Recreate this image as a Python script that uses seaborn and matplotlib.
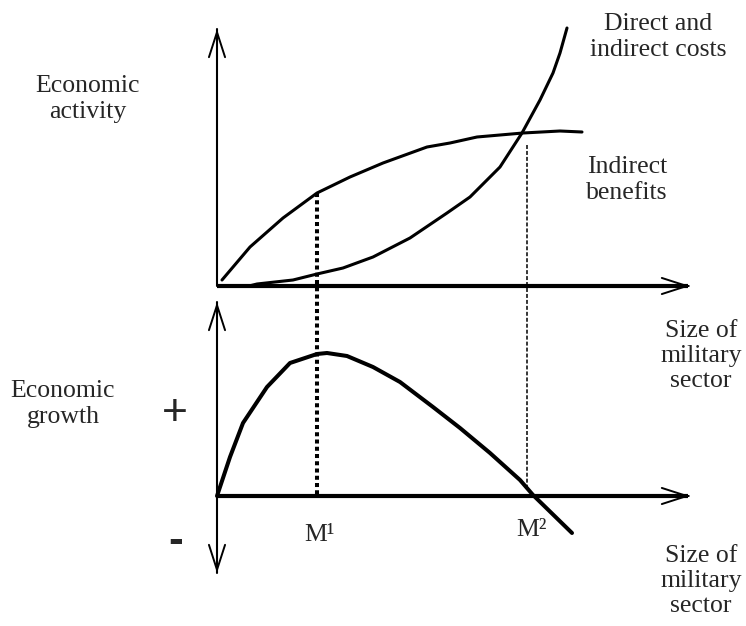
import matplotlib.pyplot as plt
import seaborn as sns
import numpy as np

# ---- data (x = size of military sector, 0 at the y axis) ----
benefit_size = [5, 33, 66, 100, 133, 166, 210, 233, 260, 306, 343, 365]
benefit_activity = [6, 39, 68, 93, 109, 123, 139, 143, 149, 153, 155, 154]

cost_size = [32, 40, 76, 100, 126, 156, 193, 230, 253, 283, 305, 323, 336, 343, 350]
cost_activity = [0, 2, 6, 12, 18, 29, 48, 73, 89, 119, 153, 186, 213, 233, 258]

growth_size = [0, 13, 26, 50, 73, 100, 110, 130, 156, 183, 216, 243, 273, 303, 316, 355]
growth_value = [0, 39, 73, 109, 133, 142, 143, 140, 129, 114, 89, 68, 43, 16, 1, -37]

m1 = 100   # size at the peak of growth
m2 = 310   # size where costs overtake benefits
m1_top = 93
m2_top = 141
m2_bottom = 9

sns.set_theme(style="white")
plt.rcParams['font.family'] = ['Liberation Serif', 'DejaVu Serif']

fig = plt.figure(figsize=(7.46, 6.26), dpi=100)
W, H = 746, 626
ox, top_axis, bot_axis = 217, 286, 496

# upper panel: 1 unit = 1 px, activity 0 on the horizontal axis
ax_top = fig.add_axes([0, (H - top_axis) / H, 1, top_axis / H])
ax_top.set_xlim(-ox, W - ox)
ax_top.set_ylim(0, top_axis)
# lower panel: growth 0 on its horizontal axis
ax_bot = fig.add_axes([0, 0, 1, (H - top_axis) / H])
ax_bot.set_xlim(-ox, W - ox)
ax_bot.set_ylim(-(H - bot_axis), bot_axis - top_axis)
for ax in (ax_top, ax_bot):
    ax.axis('off')
    ax.patch.set_alpha(0)

x_end = 690 - ox
head = dict(arrowstyle='->,head_length=1.8,head_width=0.58', lw=1.4,
            color='black', shrinkA=0, shrinkB=0, mutation_scale=10)

# axes of the upper panel
ax_top.plot([0, 0], [0, top_axis - 29], color='black', lw=1.5, clip_on=False)
ax_top.annotate('', xy=(0, top_axis - 29), xytext=(0, top_axis - 31),
                arrowprops=head, annotation_clip=False)
ax_top.plot([0, x_end - 2], [0, 0], color='black', lw=3, clip_on=False,
            solid_capstyle='butt')
ax_top.annotate('', xy=(x_end, 0), xytext=(x_end - 2, 0),
                arrowprops=head, annotation_clip=False)

# axes of the lower panel
ax_bot.plot([0, 0], [bot_axis - 302, bot_axis - 573], color='black', lw=1.5,
            clip_on=False)
ax_bot.annotate('', xy=(0, bot_axis - 302), xytext=(0, bot_axis - 304),
                arrowprops=head, annotation_clip=False)
ax_bot.annotate('', xy=(0, bot_axis - 573), xytext=(0, bot_axis - 571),
                arrowprops=head, annotation_clip=False)
ax_bot.plot([0, x_end - 2], [0, 0], color='black', lw=3, clip_on=False,
            solid_capstyle='butt')
ax_bot.annotate('', xy=(x_end, 0), xytext=(x_end - 2, 0),
                arrowprops=head, annotation_clip=False)

# curves
line_kw = dict(color='black', sort=False, solid_joinstyle='round',
               solid_capstyle='round')
sns.lineplot(x=benefit_size, y=benefit_activity, ax=ax_top, lw=2.2, **line_kw)
sns.lineplot(x=cost_size, y=cost_activity, ax=ax_top, lw=2.2, **line_kw)
sns.lineplot(x=growth_size, y=growth_value, ax=ax_bot, lw=2.9, **line_kw)

# guide lines at M1 and M2 (drawn across both panels)
ax_top.plot([m1, m1], [m1_top, -(bot_axis - top_axis)], color='black', lw=2.9,
            dashes=(1, 0.8), dash_capstyle='butt', clip_on=False)
ax_top.plot([m2, m2], [m2_top, -(bot_axis - top_axis) + m2_bottom], color='black',
            lw=1.1, dashes=(2.6, 1.3), dash_capstyle='butt', clip_on=False)

# labels
fs = 18.5
ax_top.text(-129, 187, 'Economic\nactivity', ha='center', va='center',
            multialignment='center', fontsize=fs)
ax_top.text(441, 249, 'Direct and\nindirect costs', ha='center', va='center',
            multialignment='center', fontsize=fs)
ax_top.text(410, 106, 'Indirect\nbenefits', ha='center', va='center',
            multialignment='center', fontsize=fs)
ax_bot.text(484, 140, 'Size of\nmilitary\nsector', ha='center', va='center',
            multialignment='center', fontsize=fs)
ax_bot.text(484, -85, 'Size of\nmilitary\nsector', ha='center', va='center',
            multialignment='center', fontsize=fs)
ax_bot.text(-154, 92, 'Economic\ngrowth', ha='center', va='center',
            multialignment='center', fontsize=fs)
ax_bot.text(-42, 83, '+', ha='center', va='center', fontsize=32,
            family=['Liberation Sans', 'DejaVu Sans'])
ax_bot.text(-41, -46, '-', ha='center', va='center', fontsize=32,
            fontweight='bold', family=['Liberation Sans', 'DejaVu Sans'])
ax_bot.text(m1 + 2, -39, 'M\u00b9', ha='center', va='center', fontsize=fs)
ax_bot.text(m2 + 5, -34, 'M\u00b2', ha='center', va='center', fontsize=fs)

fig.savefig('out.png', dpi=100)
